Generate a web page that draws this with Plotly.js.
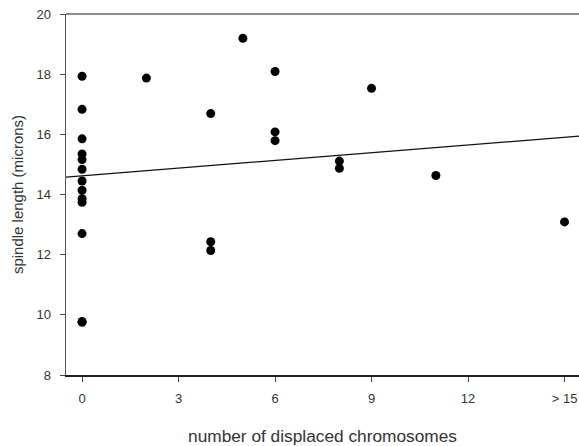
<!DOCTYPE html>
<html>
<head>
<meta charset="utf-8">
<script src="https://cdn.plot.ly/plotly-3.0.1.min.js"></script>
<style>html,body{margin:0;padding:0;background:#fff;}#chart{width:579px;height:446px;}</style>
</head>
<body>
<div id="chart"></div>
<script>
// Displaced chromosomes (x) and spindle length in microns (y)
var displaced = [0,0,0,0,0,0,0,0,0,0,0,0,0, 2, 4,4,4, 5, 6,6,6, 8,8, 9, 11, 15];
var spindle   = [17.93,16.83,15.85,15.35,15.16,14.84,14.45,14.14,13.86,13.74,12.70,9.78,9.75,
                 17.87, 16.69,12.43,12.14, 19.19, 18.09,16.08,15.79, 15.11,14.87, 17.53, 14.63, 13.09];
// Fitted line as drawn (endpoints)
var fitX = [-0.5, 15.45];
var fitY = [14.58, 15.94];
// Tick labels
var tickVals = [0,3,6,9,12,15];
var tickText = ['0','3','6','9','12','> 15'];
var yTicks = [8,10,12,14,16,18,20];

var font = {family:'Liberation Sans, Arial, sans-serif', color:'#333', size:13};
var traces = [
  {x: fitX, y: fitY, mode:'lines', line:{color:'#111', width:1.2}, hoverinfo:'skip'},
  {x: displaced, y: spindle, mode:'markers', marker:{color:'#000', size:9}}
];
var layout = {
  width:579, height:446,
  margin:{l:66, r:0, t:14, b:71},
  paper_bgcolor:'#fff', plot_bgcolor:'#fff',
  showlegend:false,
  font: font,
  xaxis:{
    range:[-0.5, 15.45], tickvals:tickVals, ticktext:tickText,
    showgrid:false, zeroline:false, showline:true, linecolor:'#222', linewidth:1.5,
    mirror:false, ticks:'outside', ticklen:5, tickcolor:'#444', tickwidth:1,
    ticklabelstandoff:6,
    title:{text:'number of displaced chromosomes', font:{family:font.family, size:17.3, color:'#333'}, standoff:27},
    automargin:false
  },
  yaxis:{
    range:[8,20], tickvals:yTicks,
    showgrid:false, zeroline:false, showline:true, linecolor:'#555', linewidth:1.5,
    ticks:'outside', ticklen:5, tickcolor:'#444', tickwidth:1,
    ticklabelstandoff:6,
    title:{text:'spindle length (microns)', font:{family:font.family, size:15, color:'#333'}, standoff:9},
    automargin:false
  },
  shapes:[{type:'line', xref:'paper', yref:'paper', x0:0, x1:1, y0:1, y1:1, line:{color:'#666', width:1.5}}]
};
Plotly.newPlot('chart', traces, layout, {staticPlot:true});
</script>
</body>
</html>
